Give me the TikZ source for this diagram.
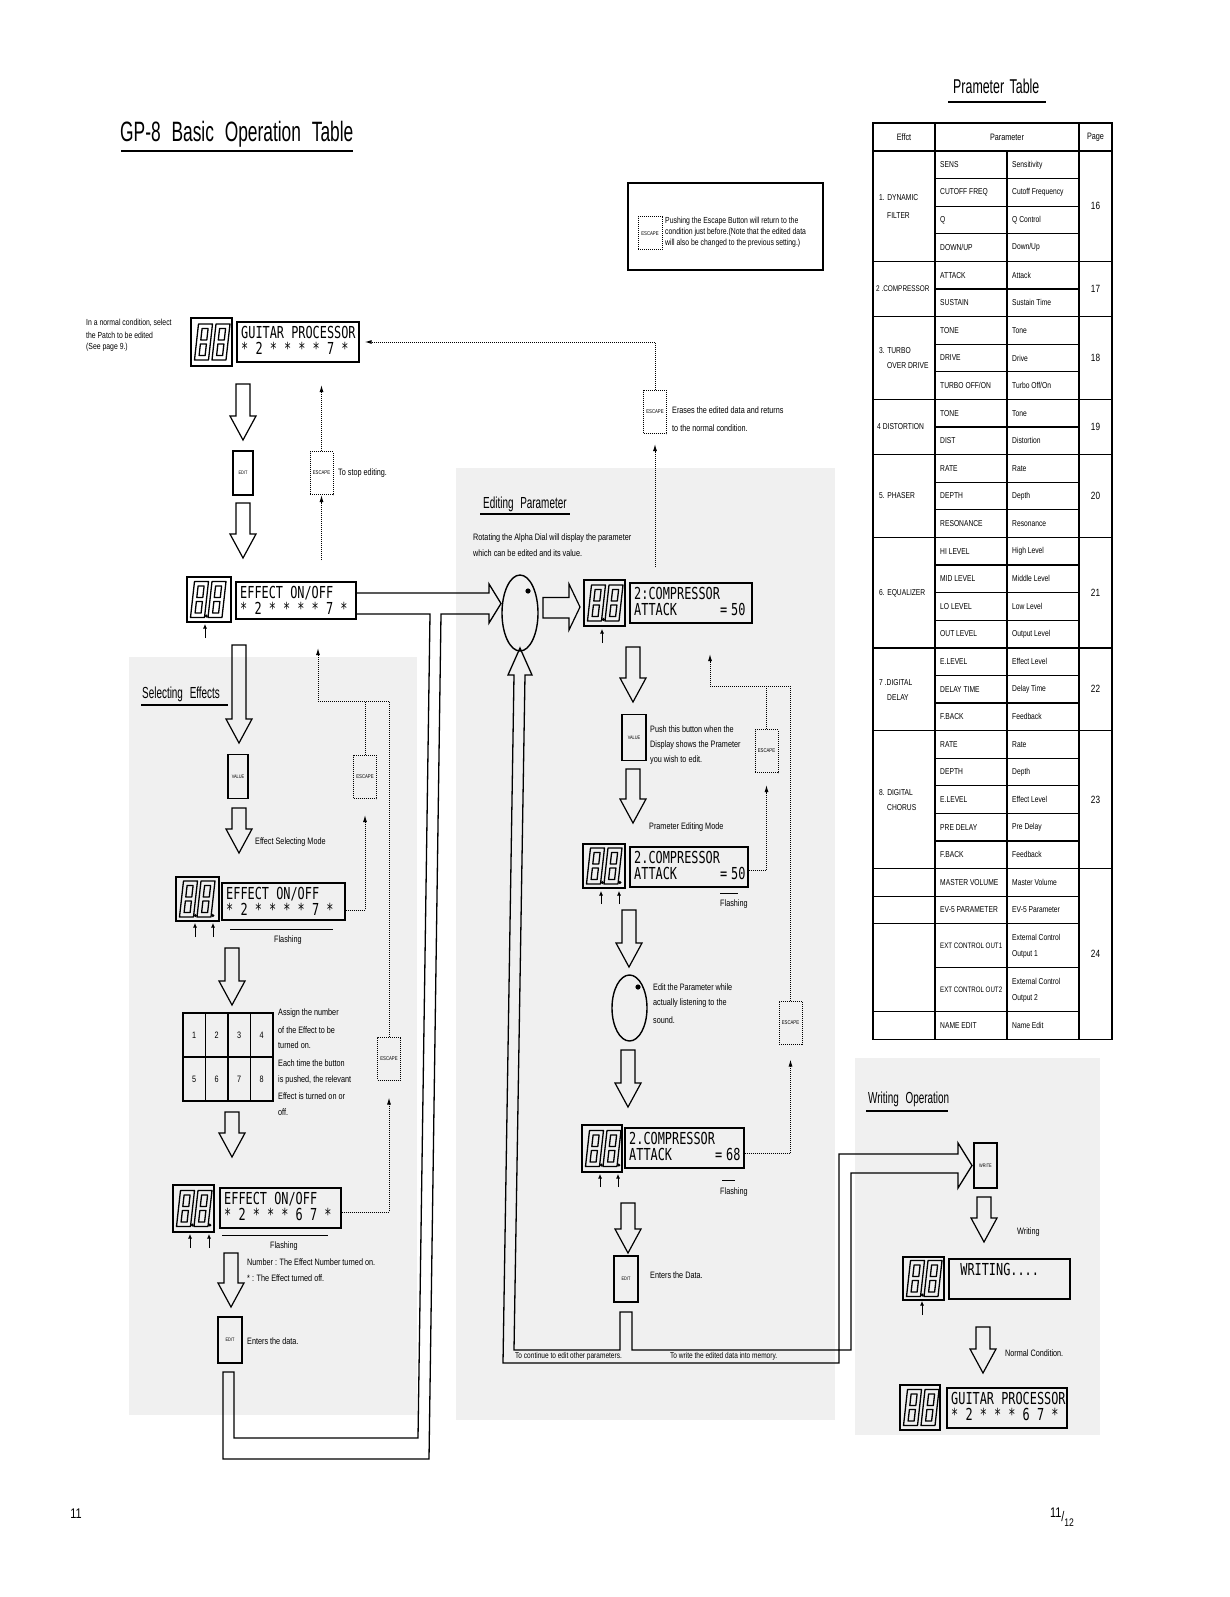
\documentclass[tikz,border=0pt]{standalone}
\usepackage{fontspec}
\newfontfamily\txtf{Liberation Sans}[FakeStretch=0.78]
\newfontfamily\ttlf{Liberation Sans}[FakeStretch=0.62]
\newfontfamily\dispf{DejaVu Sans Mono}[FakeStretch=0.72]
\usetikzlibrary{arrows.meta,calc,shapes.geometric}
\newcommand\ph{\phantom{A}}

\tikzset{
  txt/.style={font=\txtf\fontsize{9.3}{11}\selectfont, anchor=west, inner sep=0pt},
  ttl/.style={font=\ttlf\fontsize{#1}{#1}\selectfont, anchor=west, inner sep=0pt},
  dispt/.style={font=\dispf\fontsize{16.5}{16}\selectfont, anchor=base west, inner sep=0pt},
  seg/.style={line width=1.3pt, line join=round},
  boxln/.style={draw, line width=1.3pt, inner sep=0pt},
  btn/.style={draw, line width=1.4pt, inner sep=0pt, minimum width=20pt, minimum height=44pt, font=\txtf\fontsize{5}{6}\selectfont},
  esc/.style={draw, densely dotted, line width=1pt, inner sep=0pt, minimum width=23pt, minimum height=43pt, font=\txtf\fontsize{5.5}{6}\selectfont},
  dotl/.style={densely dotted, line width=1pt},
  arr/.style={-{Latex[length=7pt,width=4pt]}},
  blk/.style={line width=1.2pt, line join=miter},
  pipe/.style={line width=1.3pt, line join=miter},
  ind/.style={line width=0.8pt, -{Latex[length=4.5pt,width=4pt]}},
  tline/.style={line width=1.1pt},
  ttxt/.style={font=\txtf\fontsize{8.6}{10}\selectfont, anchor=west, inner sep=0pt, align=left},
  tctr/.style={font=\txtf\fontsize{9.3}{10}\selectfont, inner sep=0pt},
  shade/.style={fill=black!6, draw=none},
  ul/.style={line width=2.2pt}
}

\newcommand\blkdown[3]{\draw[blk] ({#1-7},#2) -- ({#1+7},#2) -- ({#1+7},{#3-24}) -- ({#1+13},{#3-24}) -- (#1,#3) -- ({#1-13},{#3-24}) -- ({#1-7},{#3-24}) -- cycle;}
\newcommand\eightg[2]{%
 \draw[seg] ({#1+4},{#2}) -- ({#1+18},{#2}) -- ({#1+14},{#2+36}) -- ({#1},{#2+36}) -- cycle;
 \draw[seg] ({#1+7.6},{#2+4.5}) -- ({#1+13.6},{#2+4.5}) -- ({#1+12.3},{#2+16}) -- ({#1+6.3},{#2+16}) -- cycle;
 \draw[seg] ({#1+5.9},{#2+20}) -- ({#1+11.9},{#2+20}) -- ({#1+10.6},{#2+31.5}) -- ({#1+4.6},{#2+31.5}) -- cycle;}
\newcommand\digitbox[5]{%
 \node[boxln, minimum width={#4-#2}, minimum height={#5-#3}] (#1) at ({(#2+#4)/2},{(#3+#5)/2}) {};
 \eightg{#2+3.5}{(#3+#5)/2-18}
 \eightg{#2+21}{(#3+#5)/2-18}}
% decimal points: first after digit 1, second after digit 2
\newcommand\segdotA[5]{\fill ({#2+19.3},{(#3+#5)/2+16.5}) circle (1.7);}
\newcommand\segdotB[5]{\fill ({#2+36.8},{(#3+#5)/2+16.5}) circle (1.7);}
\newcommand\disptext[7]{%
 \node[boxln, minimum width={#4-#2}, minimum height={#5-#3}] (#1) at ({(#2+#4)/2},{(#3+#5)/2}) {};
 \node[dispt] (#1-a) at ({#2+4},{#3+16}) {#6};
 \node[dispt] (#1-b) at ({#2+4},{#3+32}) {#7};}
\newcommand\prow[4]{%
 \draw[tline] (935,{#1+#2}) -- (1079,{#1+#2});
 \node[ttxt] at (940,{#1+#2/2}) {#3};
 \node[ttxt] at (1012,{#1+#2/2}) {#4};}

\begin{document}
\begin{tikzpicture}[x=1pt,y=-1pt]
\useasboundingbox[fill=white] (0,0) rectangle (1229,1597);

% grey areas
\fill[shade] (129,657) rectangle (417,1415);
\fill[shade] (456,468) rectangle (835,1420);
\fill[shade] (855,1058) rectangle (1100,1435);

% ===== titles =====
\node[ttl=28] (title) at (120,134) {GP-8\hspace{6pt} Basic\hspace{6pt} Operation\hspace{6pt} Table};
\draw[ul] (121,151) -- (353,151);
\node[ttl=20] (ptitle) at (953,86) {Prameter\hspace{2pt} Table};
\draw[ul] (948,102) -- (1046,102);

% ===== escape note =====
\node[draw, line width=2pt, minimum width=195pt, minimum height=87pt, inner sep=0pt] (note) at (725.5,226.5) {};
\node[esc, minimum width=24pt, minimum height=33pt] (esc0) at (650,233.5) {ESCAPE};
\node[txt, font=\txtf\fontsize{8.8}{10}\selectfont] (n1) at (665,221) {Pushing the Escape Button will return to the};
\node[txt, font=\txtf\fontsize{8.8}{10}\selectfont] (n2) at (665,232) {condition just before.(Note that the edited data};
\node[txt, font=\txtf\fontsize{8.8}{10}\selectfont] (n3) at (665,243) {will also be changed to the previous setting.)};

% ===== top: normal condition =====
\node[txt, font=\txtf\fontsize{8.8}{10}\selectfont] (t1) at (86,323) {In a normal condition, select};
\node[txt, font=\txtf\fontsize{8.8}{10}\selectfont] (t2) at (86,335) {the Patch to be edited};
\node[txt, font=\txtf\fontsize{8.8}{10}\selectfont] (t3) at (86,347) {(See page 9.)};
\digitbox{g1d}{191}{318}{232}{366}
\disptext{g1t}{237}{322}{359}{362}{GUITAR PROCESSOR}{*\ph2\ph*\ph*\ph*\ph*\ph7\ph*}

\blkdown{243}{384}{440}
\node[btn] (edit0) at (243,473) {EDIT};
\blkdown{243}{503}{558}
\node[esc] (esc1) at (321.5,473) {ESCAPE};
\node[txt] (t4) at (338,473) {To stop editing.};
\draw[dotl,arr] (esc1.north) -- ++(0,-66);
\coordinate (c1) at (321.5,560);
\draw[dotl,arr] (c1) -- (esc1.south);

\node[esc] (esc2) at (655,412) {ESCAPE};
\node[txt] (t5) at (672,410) {Erases the edited data and returns};
\node[txt] (t6) at (672,428) {to the normal condition.};
\draw[dotl,arr,shorten >=5pt] (esc2.north) |- (g1t.east);
\coordinate (c2) at (655,567);
\draw[dotl,arr,shorten >=10pt] (c2) -- (esc2.south);

% ===== effect on/off display =====
\digitbox{d2d}{187}{577}{231}{622}
\segdotA{}{187}{577}{231}{622}
\disptext{d2t}{236}{582}{356}{619}{EFFECT\ph ON/OFF}{*\ph2\ph*\ph*\ph*\ph*\ph7\ph*}
\draw[ind] (205,638) -- (205,624);

% big pipe from Selecting-Effects EDIT back up to the dial
\draw[pipe] (357,593) -- (489,593) -- (489,584) -- (501,603.5) -- (489,623) -- (489,614) -- (441,614)
  -- (429,1459) -- (223,1459) -- (223,1372) -- (234,1372) -- (234,1438) -- (418,1438) -- (430,614) -- (357,614);

% ===== Selecting Effects =====
\node[ttl=16] (selt) at (142,694) {Selecting\hspace{4pt} Effects};
\draw[ul] (141,705) -- (228,705);
\blkdown{239}{645}{743}
\node[btn] (val1) at (238,776.5) {VALUE};
\blkdown{239}{808}{853}
\node[txt] (t7) at (255,842) {Effect Selecting Mode};
\digitbox{d3d}{176}{877}{219}{921}
\segdotA{}{176}{877}{219}{921}\segdotB{}{176}{877}{219}{921}
\disptext{d3t}{222}{883}{345}{920}{EFFECT\ph ON/OFF}{*\ph2\ph*\ph*\ph*\ph*\ph7\ph*}
\draw[line width=0.9pt] (230,929) -- (333,929);
\node[txt] (t8) at (274,940) {Flashing};
\draw[ind] (195,937) -- (195,923);
\draw[ind] (213,937) -- (213,923);
\blkdown{232}{948}{1005}

% number grid
\node[draw, line width=1.6pt, minimum width=90pt, minimum height=88pt, inner sep=0pt] (grid) at (228,1057) {};
\draw[line width=1.2pt] (183,1057) -- (273,1057);
\foreach \gx in {205.5,228,250.5} \draw[line width=1.2pt] (\gx,1013) -- (\gx,1101);
\foreach \n/\gx/\gy in {1/194.25/1035,2/216.75/1035,3/239.25/1035,4/261.75/1035,5/194.25/1079,6/216.75/1079,7/239.25/1079,8/261.75/1079}
  \node[tctr] (k\n) at (\gx,\gy) {\n};
\node[txt] (a1) at (278,1013) {Assign the number};
\node[txt] (a2) at (278,1030) {of the Effect to be};
\node[txt] (a3) at (278,1045) {turned on.};
\node[txt] (a4) at (278,1063) {Each time the button};
\node[txt] (a5) at (278,1080) {is pushed, the relevant};
\node[txt] (a6) at (278,1096) {Effect is turned on or};
\node[txt] (a7) at (278,1112) {off.};
\blkdown{232}{1112}{1157}

\digitbox{d4d}{173}{1185}{214}{1232}
\segdotA{}{173}{1185}{214}{1232}\segdotB{}{173}{1185}{214}{1232}
\disptext{d4t}{220}{1188}{341}{1228}{EFFECT\ph ON/OFF}{*\ph2\ph*\ph*\ph*\ph6\ph7\ph*}
\draw[line width=0.9pt] (222,1235) -- (328,1235);
\node[txt] (t9) at (270,1246) {Flashing};
\draw[ind] (190,1248) -- (190,1234);
\draw[ind] (209,1248) -- (209,1234);
\node[txt] (t10) at (247,1262) {Number : The Effect Number turned on.};
\node[txt] (t11) at (247,1278) {* : The Effect turned off.};
\blkdown{231}{1253}{1307}
\node[btn, minimum width=24pt, minimum height=46pt] (edit1) at (230,1340) {EDIT};
\node[txt] (t12) at (247,1341) {Enters the data.};

% selecting escapes
\node[esc] (esc3) at (365,777) {ESCAPE};
\node[esc] (esc4) at (389,1058.5) {ESCAPE};
\draw[dotl] (esc3.north) -- (365,701);
\draw[dotl,arr] (esc4.north) |- (318,701) -- (318,648);
\draw[dotl,arr,shorten >=16pt] (d3t.east |- 0,910) -| (esc3.south);
\draw[dotl,arr,shorten >=17pt] (d4t.east |- 0,1212) -| (esc4.south);

% ===== Editing Parameter =====
\node[ttl=16] (edt) at (483,504) {Editing\hspace{4pt} Parameter};
\draw[ul] (480,514) -- (570,514);
\node[txt] (r1) at (473,538) {Rotating the Alpha Dial will display the parameter};
\node[txt] (r2) at (473,553) {which can be edited and its value.};
\node[draw, ellipse, line width=1.4pt, minimum width=36pt, minimum height=76pt, inner sep=0pt] (dial1) at (520,613) {};
\fill (528,591) circle (2.6);
\draw[blk] (543,597.5) -- (569,597.5) -- (569,584) -- (580,607) -- (569,630) -- (569,618) -- (543,618) -- cycle;
\digitbox{c1d}{584}{580}{625}{626}
\segdotA{}{584}{580}{625}{626}
\disptext{c1t}{630}{583}{752}{623}{2:COMPRESSOR}{ATTACK\ph\ph\ph\ph\ph\ph=\hspace{4pt}50}
\draw[ind] (602,643) -- (602,629);

\blkdown{633}{647}{702}
\node[btn, minimum width=24pt, minimum height=46pt] (val2) at (634,737.5) {VALUE};
\node[txt] (p1) at (650,729) {Push this button when the};
\node[txt] (p2) at (650,745) {Display shows the Prameter};
\node[txt] (p3) at (650,760) {you wish to edit.};
\blkdown{633}{769}{823}
\node[txt] (p4) at (649,827) {Prameter Editing Mode};
\digitbox{c2d}{583}{844}{625}{888}
\segdotA{}{583}{844}{625}{888}\segdotB{}{583}{844}{625}{888}
\disptext{c2t}{630}{847}{748}{887}{2.COMPRESSOR}{ATTACK\ph\ph\ph\ph\ph\ph=\hspace{4pt}50}
\draw[line width=0.9pt] (720,893) -- (738,893);
\node[txt] (p5) at (720,904) {Flashing};
\draw[ind] (601,904) -- (601,891);
\draw[ind] (619,904) -- (619,891);

\blkdown{629}{910}{967}
\node[draw, ellipse, line width=1.4pt, minimum width=35pt, minimum height=66pt, inner sep=0pt] (dial2) at (629.5,1008) {};
\fill (638,987) circle (2.6);
\node[txt] (p6) at (653,987) {Edit the Parameter while};
\node[txt] (p7) at (653,1003) {actually listening to the};
\node[txt] (p8) at (653,1020) {sound.};
\blkdown{628}{1050}{1107}
\digitbox{c3d}{582}{1125}{622}{1172}
\segdotA{}{582}{1125}{622}{1172}\segdotB{}{582}{1125}{622}{1172}
\disptext{c3t}{625}{1128}{744}{1168}{2.COMPRESSOR}{ATTACK\ph\ph\ph\ph\ph\ph=\hspace{4pt}68}
\draw[line width=0.9pt] (722,1180) -- (735,1180);
\node[txt] (p9) at (720,1192) {Flashing};
\draw[ind] (600,1187) -- (600,1174);
\draw[ind] (618,1187) -- (618,1174);
\blkdown{628}{1203}{1253}
\node[btn, minimum width=24pt, minimum height=46pt] (edit2) at (626,1279) {EDIT};
\node[txt] (p10) at (650,1275) {Enters the Data.};

% editing escapes
\node[esc] (esc5) at (766.5,751) {ESCAPE};
\node[esc] (esc6) at (790.5,1022.5) {ESCAPE};
\draw[dotl] (esc5.north) -- (esc5.north |- 0,686);
\draw[dotl,arr] (esc6.north) |- (710,686) -- (710,654);
\draw[dotl,arr,shorten >=12pt] (c2t.east |- 0,870) -| (esc5.south);
\draw[dotl,arr,shorten >=15pt] (c3t.east |- 0,1153) -| (esc6.south);

% pipe from EDIT: back to dial and on to WRITE
\draw[pipe] (620,1312) -- (620,1350) -- (514,1350) -- (525,675) -- (532,675) -- (520,648) -- (508,675) -- (514,675)
  -- (503,1363) -- (839,1363) -- (839,1154) -- (958,1154) -- (958,1143) -- (972,1165.5) -- (958,1188) -- (958,1173)
  -- (851,1173) -- (851,1350) -- (632,1350) -- (632,1312) -- cycle;
\node[txt, font=\txtf\fontsize{8.4}{9}\selectfont] (q1) at (515,1356.5) {To continue to edit other parameters.};
\node[txt, font=\txtf\fontsize{8.4}{9}\selectfont] (q2) at (670,1356.5) {To write the edited data into memory.};

% ===== Writing Operation =====
\node[ttl=16] (wrt) at (868,1099) {Writing\hspace{4pt} Operation};
\draw[ul] (866,1111) -- (948,1111);
\node[btn, minimum width=23pt, minimum height=45pt] (write) at (985.5,1165.5) {WRITE};
\blkdown{984}{1197}{1242}
\node[txt] (w1) at (1017,1232) {Writing};
\digitbox{w1d}{903}{1257}{944}{1300}
\segdotA{}{903}{1257}{944}{1300}
\disptext{w1t}{949}{1259}{1070}{1299}{\ph WRITING....}{}
\draw[ind] (922,1315) -- (922,1301);
\blkdown{983}{1327}{1373}
\node[txt] (w2) at (1005,1353) {Normal Condition.};
\digitbox{w2d}{900}{1385}{940}{1430}
\disptext{w2t}{947}{1388}{1067}{1428}{GUITAR PROCESSOR}{*\ph2\ph*\ph*\ph*\ph6\ph7\ph*}

% ===== Parameter table =====
\draw[line width=1.8pt] (873,123) rectangle (1112,1039.4);
\draw[line width=1.5pt] (873,151) -- (1112,151);
\draw[tline] (935,123) -- (935,1039.4);
\draw[tline] (1079,123) -- (1079,1039.4);
\draw[tline] (1007,151) -- (1007,1039.4);
\foreach \g in {261.4,316.6,399.4,454.6,537.4,647.8,730.6,868.6} \draw[line width=1.4pt] (873,\g) -- (1112,\g);
\foreach \g in {896.2,923.8,1011.8} \draw[tline] (873,\g) -- (935,\g);
\node[tctr] (h1) at (904,137) {Effct};
\node[tctr] (h2) at (1007,137) {Parameter};
\node[tctr] (h3) at (1095.5,137) {Page};

\prow{151}{27.6}{SENS}{Sensitivity}
\prow{178.6}{27.6}{CUTOFF FREQ}{Cutoff Frequency}
\prow{206.2}{27.6}{Q}{Q Control}
\prow{233.8}{27.6}{DOWN/UP}{Down/Up}
\prow{261.4}{27.6}{ATTACK}{Attack}
\prow{289.0}{27.6}{SUSTAIN}{Sustain Time}
\prow{316.6}{27.6}{TONE}{Tone}
\prow{344.2}{27.6}{DRIVE}{Drive}
\prow{371.8}{27.6}{TURBO OFF/ON}{Turbo Off/On}
\prow{399.4}{27.6}{TONE}{Tone}
\prow{427.0}{27.6}{DIST}{Distortion}
\prow{454.6}{27.6}{RATE}{Rate}
\prow{482.2}{27.6}{DEPTH}{Depth}
\prow{509.8}{27.6}{RESONANCE}{Resonance}
\prow{537.4}{27.6}{HI LEVEL}{High Level}
\prow{565.0}{27.6}{MID LEVEL}{Middle Level}
\prow{592.6}{27.6}{LO LEVEL}{Low Level}
\prow{620.2}{27.6}{OUT LEVEL}{Output Level}
\prow{647.8}{27.6}{E.LEVEL}{Effect Level}
\prow{675.4}{27.6}{DELAY TIME}{Delay Time}
\prow{703.0}{27.6}{F.BACK}{Feedback}
\prow{730.6}{27.6}{RATE}{Rate}
\prow{758.2}{27.6}{DEPTH}{Depth}
\prow{785.8}{27.6}{E.LEVEL}{Effect Level}
\prow{813.4}{27.6}{PRE DELAY}{Pre Delay}
\prow{841.0}{27.6}{F.BACK}{Feedback}
\prow{868.6}{27.6}{MASTER VOLUME}{Master Volume}
\prow{896.2}{27.6}{EV-5 PARAMETER}{EV-5 Parameter}
\prow{923.8}{44}{\fontsize{7.9}{10}\selectfont EXT CONTROL OUT1}{External Control\\[6pt]Output 1}
\prow{967.8}{44}{\fontsize{7.9}{10}\selectfont EXT CONTROL OUT2}{External Control\\[6pt]Output 2}
\prow{1011.8}{27.6}{NAME EDIT}{Name Edit}

\node[ttxt] (f1) at (879,206) {1. DYNAMIC\\[8pt]\hspace*{8pt}FILTER};
\node[ttxt, font=\txtf\fontsize{8.2}{10}\selectfont] (f2) at (876,289) {2 .COMPRESSOR};
\node[ttxt] (f3) at (879,358) {3. TURBO\\[5pt]\hspace*{8pt}OVER DRIVE};
\node[ttxt] (f4) at (877,427) {4 DISTORTION};
\node[ttxt] (f5) at (879,496) {5. PHASER};
\node[ttxt] (f6) at (879,593) {6. EQUALIZER};
\node[ttxt] (f7) at (879,690) {7 .DIGITAL\\[5pt]\hspace*{8pt}DELAY};
\node[ttxt] (f8) at (879,800) {8. DIGITAL\\[5pt]\hspace*{8pt}CHORUS};
\foreach \pg/\py in {16/206.2,17/289,18/358,19/427,20/496,21/592.6,22/689.2,23/799.6,24/954}
  \node[tctr, font=\txtf\fontsize{10.5}{10}\selectfont] (pg\pg) at (1095.5,\py) {\pg};

% page numbers
\node[font=\txtf\fontsize{14}{14}\selectfont, inner sep=0pt] (pnl) at (76,1514) {11};
\node[font=\txtf\fontsize{14}{14}\selectfont, inner sep=0pt] (pnr) at (1062,1517) {\raisebox{4pt}{11}/\raisebox{-5pt}{\fontsize{11}{11}\selectfont 12}};
\end{tikzpicture}
\end{document}
